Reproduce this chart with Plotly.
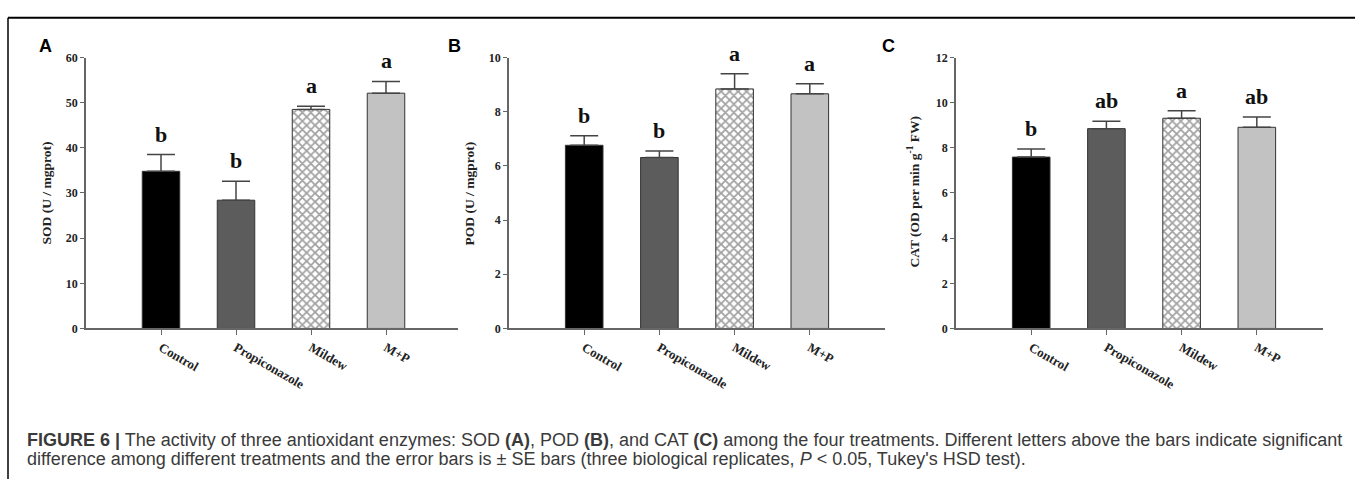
import plotly.graph_objects as go

W, H = 1355, 486

categories = ["Control", "Propiconazole", "Mildew", "M+P"]

sod = [34.8, 28.4, 48.5, 52.1]
sod_se = [3.7, 4.2, 0.7, 2.6]
sod_letters = ["b", "b", "a", "a"]

pod = [6.76, 6.31, 8.84, 8.66]
pod_se = [0.35, 0.24, 0.56, 0.37]
pod_letters = ["b", "b", "a", "a"]

cat = [7.59, 8.85, 9.31, 8.91]
cat_se = [0.36, 0.33, 0.33, 0.45]
cat_letters = ["b", "ab", "a", "ab"]

y_ticks_sod = [0, 10, 20, 30, 40, 50, 60]
y_ticks_pod = [0, 2, 4, 6, 8, 10]
y_ticks_cat = [0, 2, 4, 6, 8, 10, 12]

bar_colors = ["#000000", "#5c5c5c", "#ffffff", "#c2c2c2"]
bar_patterns = ["", "", "x", ""]

SERIF = "Liberation Serif"
SANS = "Liberation Sans"


def px_x(p):
    return p / W


def px_y(p):
    return 1 - p / H


panels = [
    dict(vals=sod, se=sod_se, letters=sod_letters, ticks=y_ticks_sod, xdom=(86, 458), xr=[-1, 3.96],
         title="SOD (U / mgprot)", tx=46, ty=192, lab="A", lx=45),
    dict(vals=pod, se=pod_se, letters=pod_letters, ticks=y_ticks_pod, xdom=(509, 885), xr=[-1, 4.0],
         title="POD (U / mgprot)", tx=469, ty=192, lab="B", lx=454),
    dict(vals=cat, se=cat_se, letters=cat_letters, ticks=y_ticks_cat, xdom=(956, 1323), xr=[-1, 3.88],
         title="CAT (OD per min g<sup>-1</sup> FW)", tx=914, ty=190, lab="C", lx=888),
]

fig = go.Figure()
annotations = []
layout = {}
ydom = [px_y(331), px_y(52)]

for i, p in enumerate(panels, start=1):
    xa = "x" if i == 1 else f"x{i}"
    ya = "y" if i == 1 else f"y{i}"
    fig.add_trace(go.Bar(
        x=categories, y=p["vals"], xaxis=xa, yaxis=ya, width=0.5,
        marker=dict(color=bar_colors, line=dict(color="#333333", width=1),
                    pattern=dict(shape=bar_patterns, fgcolor="#000000", size=6, solidity=0.5)),
        error_y=dict(type="data", symmetric=False, array=p["se"], arrayminus=[0] * 4,
                     color="#444444", thickness=1.5, width=14),
        showlegend=False, hoverinfo="skip",
    ))
    for c, v, s, l in zip(categories, p["vals"], p["se"], p["letters"]):
        annotations.append(dict(x=c, y=v + s, xref=xa, yref=ya, text=l, showarrow=False,
                                yanchor="bottom", yshift=6,
                                font=dict(family=SERIF, size=22, color="#111111", weight="bold")))
    kx = "xaxis" if i == 1 else f"xaxis{i}"
    ky = "yaxis" if i == 1 else f"yaxis{i}"
    layout[kx] = dict(domain=[px_x(p["xdom"][0]), px_x(p["xdom"][1])], anchor=ya, type="category",
                      range=p["xr"], showline=True, linecolor="#666666", linewidth=1.5,
                      ticks="outside", ticklen=5, tickcolor="#666666", tickwidth=1.2,
                      tickangle=30, showgrid=False, zeroline=False,
                      tickfont=dict(family=SERIF, size=13, color="#222222", weight="bold"))
    layout[ky] = dict(domain=ydom, anchor=xa, range=[0, p["ticks"][-1]], tickvals=p["ticks"],
                      showline=True, linecolor="#666666", linewidth=1.5,
                      ticks="outside", ticklen=4, tickcolor="#666666", tickwidth=1.2,
                      showgrid=False, zeroline=False,
                      tickfont=dict(family=SERIF, size=12, color="#222222", weight="bold"))
    annotations.append(dict(x=px_x(p["tx"]), y=px_y(p["ty"]), xref="paper", yref="paper",
                            text=p["title"], textangle=-90, showarrow=False,
                            xanchor="center", yanchor="middle",
                            font=dict(family=SERIF, size=13.5, color="#222222", weight="bold")))
    annotations.append(dict(x=px_x(p["lx"]), y=px_y(40), xref="paper", yref="paper",
                            text=p["lab"], showarrow=False, xanchor="center", yanchor="middle",
                            font=dict(family=SANS, size=18, color="#000000", weight="bold")))

caption1 = ("<b>FIGURE 6 |</b> The activity of three antioxidant enzymes: SOD <b>(A)</b>, POD <b>(B)</b>, "
            "and CAT <b>(C)</b> among the four treatments. Different letters above the bars indicate significant")
caption2 = ("difference among different treatments and the error bars is ± SE bars (three biological "
            "replicates, <i>P</i> &lt; 0.05, Tukey's HSD test).")
for txt, yy in [(caption1, 446), (caption2, 465)]:
    annotations.append(dict(x=px_x(25), y=px_y(yy), xref="paper", yref="paper", text=txt,
                            showarrow=False, xanchor="left", yanchor="middle",
                            font=dict(family=SANS, size=18, color="#3a3a3a")))

shapes = [
    dict(type="line", xref="paper", yref="paper", x0=px_x(8), x1=1, y0=px_y(11), y1=px_y(11),
         line=dict(color="#000000", width=2), layer="above"),
    dict(type="line", xref="paper", yref="paper", x0=px_x(8), x1=px_x(8), y0=px_y(11), y1=0,
         line=dict(color="#000000", width=1.5), layer="above"),
]

fig.update_layout(width=W, height=H, margin=dict(l=0, r=0, t=0, b=0),
                  paper_bgcolor="white", plot_bgcolor="white",
                  annotations=annotations, shapes=shapes, bargap=0.5, **layout)

fig.write_html("out.html", config={"displayModeBar": False},
               post_script="document.body.style.margin='0';document.body.style.overflow='hidden';")
